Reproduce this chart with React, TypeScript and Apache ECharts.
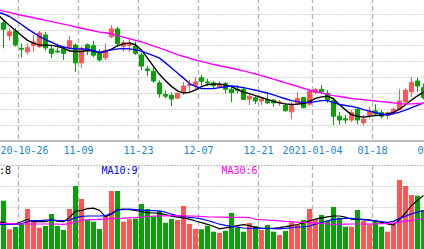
import React, { useEffect, useRef } from 'react';
import * as echarts from 'echarts';

const dates = [
  '2020-10-20','2020-10-21','2020-10-22','2020-10-23','2020-10-26','2020-10-27','2020-10-28','2020-10-29','2020-10-30',
  '2020-11-02','2020-11-03','2020-11-04','2020-11-05','2020-11-06',
  '2020-11-09','2020-11-10','2020-11-11','2020-11-12','2020-11-13',
  '2020-11-16','2020-11-17','2020-11-18','2020-11-19','2020-11-20',
  '2020-11-23','2020-11-24','2020-11-25','2020-11-26','2020-11-27',
  '2020-11-30','2020-12-01','2020-12-02','2020-12-03','2020-12-04',
  '2020-12-07','2020-12-08','2020-12-09','2020-12-10','2020-12-11',
  '2020-12-14','2020-12-15','2020-12-16','2020-12-17','2020-12-18',
  '2020-12-21','2020-12-22','2020-12-23','2020-12-24','2020-12-25',
  '2020-12-28','2020-12-29','2020-12-30','2020-12-31',
  '2021-01-04','2021-01-05','2021-01-06','2021-01-07','2021-01-08',
  '2021-01-11','2021-01-12','2021-01-13','2021-01-14','2021-01-15',
  '2021-01-18','2021-01-19','2021-01-20','2021-01-21','2021-01-22',
  '2021-01-25','2021-01-26','2021-01-27','2021-01-28','2021-01-29',
  '2021-02-01',
];

const tickDates = ['2020-10-26','2020-11-09','2020-11-23','2020-12-07','2020-12-21','2021-01-04','2021-01-18','2021-02-01'];
const tickLabels = ['2020-10-26','11-09','11-23','12-07','12-21','2021-01-04','01-18','02-01'];

const opens: any[] = ['-',
  13.22, 12.81, 12.96, 12.42, 12.31, 12.51, 12.47, 12.84, 12.40, 12.33,
  12.39, 12.45, 12.52, 11.96, 12.53, 12.50, 12.31, 12.12, 12.78, 13.03,
  12.48, 12.51, 12.49, 12.21, 11.77, 11.70, 11.33, 10.97, 10.94, 10.85,
  11.05, 11.25, 11.25, 11.49, 11.36, 11.33, 11.20, 11.31, 11.13, 11.13,
  11.13, 10.82, 10.86, 10.76, 10.81, 10.79, 10.70, 10.63, 10.42, 10.68,
  10.87, 10.66, 11.03, 11.13, 11.00, 10.77, 10.28, 10.20, 10.16, 10.50,
  10.07, 10.32, 10.45, 10.40, 10.31, 10.40, 10.50, 10.73, 11.05, 11.39,
  11.18];
const closes: any[] = ['-',
  13.02, 12.94, 12.52, 12.39, 12.44, 12.62, 12.90, 12.43, 12.26, 12.30,
  12.26, 12.66, 11.96, 12.42, 12.41, 12.20, 12.05, 12.36, 13.03, 12.57,
  12.60, 12.57, 12.26, 11.86, 11.72, 11.39, 10.98, 10.91, 10.82, 11.00,
  11.23, 11.28, 11.36, 11.38, 11.33, 11.24, 11.28, 11.13, 11.02, 11.10,
  10.81, 10.91, 10.76, 10.82, 10.70, 10.70, 10.73, 10.45, 10.61, 10.84,
  10.55, 11.07, 11.13, 11.05, 10.79, 10.28, 10.16, 10.16, 10.40, 10.16,
  10.19, 10.44, 10.35, 10.28, 10.39, 10.50, 10.76, 11.10, 11.35, 11.23,
  10.87];
const lows: any[] = ['-',
  12.42, 12.66, 12.47, 12.13, 12.21, 12.31, 12.43, 12.35, 12.12, 12.26,
  12.05, 12.31, 11.68, 11.81, 12.21, 12.14, 12.00, 12.05, 12.73, 12.47,
  12.31, 12.30, 12.21, 11.73, 11.54, 11.33, 10.87, 10.84, 10.60, 10.82,
  10.96, 11.01, 11.14, 11.24, 11.23, 11.15, 11.16, 11.00, 10.73, 10.99,
  10.79, 10.63, 10.66, 10.63, 10.66, 10.58, 10.60, 10.42, 10.19, 10.63,
  10.53, 10.60, 10.97, 11.00, 10.70, 10.00, 10.02, 10.05, 10.10, 10.03,
  9.98, 10.21, 10.32, 10.21, 10.18, 10.34, 10.47, 10.68, 10.89, 11.05,
  10.81];
const highs: any[] = ['-',
  13.31, 13.05, 13.05, 12.57, 12.57, 12.84, 12.96, 12.94, 12.52, 12.57,
  12.47, 12.81, 12.57, 12.47, 12.57, 12.65, 12.39, 12.57, 13.15, 13.10,
  12.68, 12.68, 12.63, 12.28, 11.86, 11.81, 11.41, 11.09, 11.03, 11.03,
  11.36, 11.43, 11.51, 11.58, 11.46, 11.39, 11.39, 11.36, 11.23, 11.26,
  11.16, 11.00, 10.95, 10.87, 11.03, 10.81, 10.79, 10.68, 10.72, 11.03,
  10.89, 11.13, 11.16, 11.26, 11.10, 10.86, 10.42, 10.32, 10.47, 10.53,
  10.32, 10.58, 10.66, 10.47, 10.42, 10.55, 11.13, 11.16, 11.50, 11.50,
  11.31];

const volumes: any[] = ['-',
  98.6, 41.4, 46, 52, 82, 58.6, 44.6, 48, 72, 48,
  40, 82, 128, 102, 60, 56.6, 42, 68, 118, 118,
  56.6, 61.4, 63, 92, 82, 66.6, 79, 54.6, 62, 60,
  88, 52, 42, 41.4, 48.6, 36.6, 34, 38.6, 74, 44.4,
  36.6, 54, 48, 40, 50, 36.6, 30, 38, 55.4, 50,
  60, 82, 61.4, 70, 58.6, 86, 64.6, 46.6, 46.6, 80,
  58.6, 51.4, 58.6, 46.6, 36.6, 51.4, 140, 128, 110, 108.6,
  80];

const ma5 = [13.49,
  13.31, 13.14, 12.98, 12.82, 12.67, 12.58, 12.52, 12.52, 12.51, 12.48,
  12.42, 12.34, 12.32, 12.32, 12.35, 12.33, 12.28, 12.32, 12.39, 12.50,
  12.56, 12.59, 12.53, 12.36, 12.11, 11.85, 11.60, 11.40, 11.22, 11.08,
  11.01, 11.03, 11.11, 11.21, 11.28, 11.29, 11.30, 11.26, 11.21, 11.12,
  11.04, 10.99, 10.93, 10.87, 10.81, 10.75, 10.70, 10.67, 10.65, 10.66,
  10.68, 10.74, 10.84, 10.89, 10.91, 10.83, 10.64, 10.48, 10.33, 10.28,
  10.25, 10.28, 10.30, 10.32, 10.35, 10.40, 10.50, 10.64, 10.79, 10.92,
  11.04];
const ma10 = [13.57,
  13.50, 13.42, 13.30, 13.17, 13.03, 12.91, 12.79, 12.69, 12.61, 12.52,
  12.46, 12.42, 12.40, 12.40, 12.39, 12.35, 12.28, 12.33, 12.37, 12.40,
  12.41, 12.40, 12.37, 12.33, 12.26, 12.19, 12.11, 11.96, 11.80, 11.64,
  11.48, 11.31, 11.22, 11.15, 11.15, 11.15, 11.18, 11.21, 11.23, 11.21,
  11.18, 11.14, 11.10, 11.05, 11.01, 10.95, 10.89, 10.83, 10.77, 10.74,
  10.71, 10.71, 10.74, 10.77, 10.77, 10.71, 10.65, 10.62, 10.59, 10.55,
  10.49, 10.44, 10.39, 10.35, 10.32, 10.36, 10.41, 10.47, 10.55, 10.62,
  10.70];
const ma30 = [13.64,
  13.59, 13.55, 13.50, 13.46, 13.42, 13.38, 13.34, 13.30, 13.26, 13.22,
  13.18, 13.14, 13.09, 13.05, 13.01, 12.97, 12.93, 12.91, 12.87, 12.82,
  12.77, 12.72, 12.67, 12.62, 12.56, 12.49, 12.43, 12.36, 12.29, 12.22,
  12.16, 12.11, 12.05, 12.00, 11.96, 11.91, 11.87, 11.83, 11.79, 11.75,
  11.71, 11.66, 11.61, 11.56, 11.50, 11.45, 11.39, 11.33, 11.28, 11.22,
  11.16, 11.10, 11.06, 11.01, 10.97, 10.93, 10.90, 10.87, 10.84, 10.82,
  10.80, 10.78, 10.76, 10.74, 10.72, 10.70, 10.68, 10.66, 10.67, 10.68,
  10.68];

const volMa5 = [56.6,
  54.8, 51.6, 52.6, 56.4, 61.6, 56.6, 56.6, 56.6, 60.6, 57.8,
  56.6, 65.2, 77.4, 79.4, 82.6, 83.8, 79.2, 66.8, 71.6, 80.6,
  82, 80.8, 79, 76.6, 74.6, 74, 73.4, 70.6, 67.6, 65.6,
  64.2, 61.8, 58, 54.6, 51.4, 47.4, 42.2, 44.4, 46.4, 48.6,
  50.8, 48.8, 45.4, 43.4, 43.4, 43.4, 44.8, 46.6, 48.8, 51,
  54.4, 58.4, 61.6, 64.4, 66.4, 68, 68, 65.6, 61.8, 61.4,
  61.2, 60.4, 58.4, 55.4, 52.4, 50, 60.8, 74, 89, 99.2,
  109];
const volMa10 = [51.4,
  51.4, 51.4, 51.4, 52.6, 56.6, 58.6, 58.6, 59.6, 59.8, 59,
  58.6, 59.4, 64.8, 67.4, 68, 68, 68, 68.8, 73.4, 80.4,
  80.8, 81.6, 80.8, 79.8, 79.2, 78.6, 78, 75.6, 71.6, 68.4,
  67, 65.2, 64, 62.4, 59, 55.6, 51.6, 49.2, 47.2, 45.6,
  44, 43.4, 43.4, 43.4, 43, 42.6, 42.2, 43.4, 44.8, 46,
  46.2, 48, 51.8, 55, 58.2, 61.2, 62.4, 63.4, 63.2, 62,
  60.8, 59.4, 58.2, 56.8, 55.4, 57.2, 63.2, 67.8, 72.2, 75.6,
  78.6];
const volMa30 = [53.4,
  53.2, 52.8, 52.2, 52, 52, 52, 52, 52, 52, 51.8,
  51.4, 52.8, 55.8, 59.6, 60.2, 60.8, 61.4, 62, 62.6, 63.2,
  63.8, 64.4, 65, 65.8, 67, 67.8, 68.2, 68.4, 68.6, 68.6,
  68.4, 68, 67.6, 67, 66.4, 66, 65.8, 65.6, 65.4, 65.4,
  65.4, 65, 61.4, 60.6, 60, 59.2, 58.4, 57.4, 56.6, 55.6,
  55.2, 54.8, 54, 53, 52, 51.4, 51.6, 51.8, 52, 52,
  52, 52, 52.2, 52.6, 53, 53.6, 55.8, 57.6, 59.4, 61,
  63.2];

const volLegendLabels = ['MA5:8', 'MA10:9', 'MA30:6'];

const RED = '#ff5555';
const GREEN = '#0aa00a';
const MONO = '"DejaVu Sans Mono", "Liberation Mono", monospace';

export default function App() {
  const ref = useRef<HTMLDivElement>(null);
  useEffect(() => {
    if (!ref.current) return;
    const chart = echarts.init(ref.current, null, { renderer: 'svg' });
    const candles = opens.map((o, i) => [o, closes[i], lows[i], highs[i]]);
    const isTick = (_i: number, v: string) => tickDates.indexOf(v) >= 0;
    const dashed = { show: true, interval: isTick, lineStyle: { color: '#b8b8b8', width: 1.4, type: [5, 3] } };
    const dotted = { show: true, lineStyle: { color: '#a8a8a8', width: 1, type: [1, 2] } };
    const gridL = 14.5, gridR = 21.5;
    const line = (name: string, data: number[], color: string, xi: number, yi: number, w: number) => ({
      name, type: 'line', data, xAxisIndex: xi, yAxisIndex: yi, showSymbol: false, symbol: 'none',
      lineStyle: { color, width: w }, itemStyle: { color }, silent: true, z: 3,
    });
    chart.setOption({
      animation: false,
      backgroundColor: '#ffffff',
      grid: [
        { left: gridL, right: gridR, top: 18.1, bottom: 139 },
        { left: gridL, right: gridR, top: 185, bottom: 30 },
      ],
      xAxis: [
        {
          type: 'category', gridIndex: 0, data: dates, boundaryGap: true,
          axisLine: { show: true, lineStyle: { color: '#a8a8a8', width: 1.5 } },
          axisTick: { show: false },
          axisLabel: {
            interval: isTick,
            formatter: (v: string) => tickLabels[tickDates.indexOf(v)] ?? '',
            color: '#1a86d0', fontFamily: MONO, fontSize: 10, margin: 9,
            verticalAlign: 'middle', padding: [0, 6, 0, 0],
          },
          splitLine: dashed,
        },
        {
          type: 'category', gridIndex: 1, data: dates, boundaryGap: true, position: 'top',
          axisLine: { show: true, lineStyle: { color: '#a8a8a8', width: 1.5 } },
          axisTick: { show: false }, axisLabel: { show: false },
          splitLine: dashed,
        },
      ],
      yAxis: [
        { type: 'value', gridIndex: 0, min: 9.5, max: 14, interval: 0.5, axisLine: { show: false }, axisTick: { show: false }, axisLabel: { show: false }, splitLine: dotted },
        { type: 'value', gridIndex: 1, min: 0, max: 170, axisLine: { show: false }, axisTick: { show: false }, axisLabel: { show: false }, splitLine: { show: false } },
        { type: 'value', gridIndex: 1, min: 0, max: 170, interval: 86, axisLine: { show: false }, axisTick: { show: false }, axisLabel: { show: false }, splitLine: dotted },
        { type: 'value', gridIndex: 1, min: 0, max: 170, interval: 128, axisLine: { show: false }, axisTick: { show: false }, axisLabel: { show: false }, splitLine: dotted },
      ],
      series: [
        {
          type: 'candlestick', xAxisIndex: 0, yAxisIndex: 0, data: candles, barWidth: 4, silent: true,
          itemStyle: { color: RED, color0: GREEN, borderColor: RED, borderColor0: GREEN, borderWidth: 1 },
        },
        line('MA5', ma5, '#000000', 0, 0, 1.4),
        line('MA10', ma10, '#0000ff', 0, 0, 1.4),
        line('MA30', ma30, '#ff00ff', 0, 0, 1.4),
        {
          type: 'bar', xAxisIndex: 1, yAxisIndex: 1, data: volumes, barWidth: 5, silent: true,
          itemStyle: { color: (p: any) => (closes[p.dataIndex] >= opens[p.dataIndex] ? RED : GREEN) },
        },
        line('VMA5', volMa5, '#000000', 1, 1, 1.2),
        line('VMA10', volMa10, '#0000ff', 1, 1, 1.2),
        line('VMA30', volMa30, '#ff00ff', 1, 1, 1.2),
      ],
      graphic: [
        { type: 'text', x: 1, y: 190.5, style: { text: volLegendLabels[0], fill: '#000000', font: `10px ${MONO}`, verticalAlign: 'middle' } },
        { type: 'text', x: 121.5, y: 190.5, style: { text: volLegendLabels[1], fill: '#0000ff', font: `10px ${MONO}`, verticalAlign: 'middle' } },
        { type: 'text', x: 241.5, y: 190.5, style: { text: volLegendLabels[2], fill: '#ff00ff', font: `10px ${MONO}`, verticalAlign: 'middle' } },
      ],
    });
    return () => chart.dispose();
  }, []);
  return (
    <div style={{ position: 'fixed', left: 0, top: 0, width: 424, height: 249, overflow: 'hidden', background: '#fff' }}>
      <div ref={ref} style={{ position: 'absolute', left: -20, top: -20, width: 480, height: 300 }} />
    </div>
  );
}
